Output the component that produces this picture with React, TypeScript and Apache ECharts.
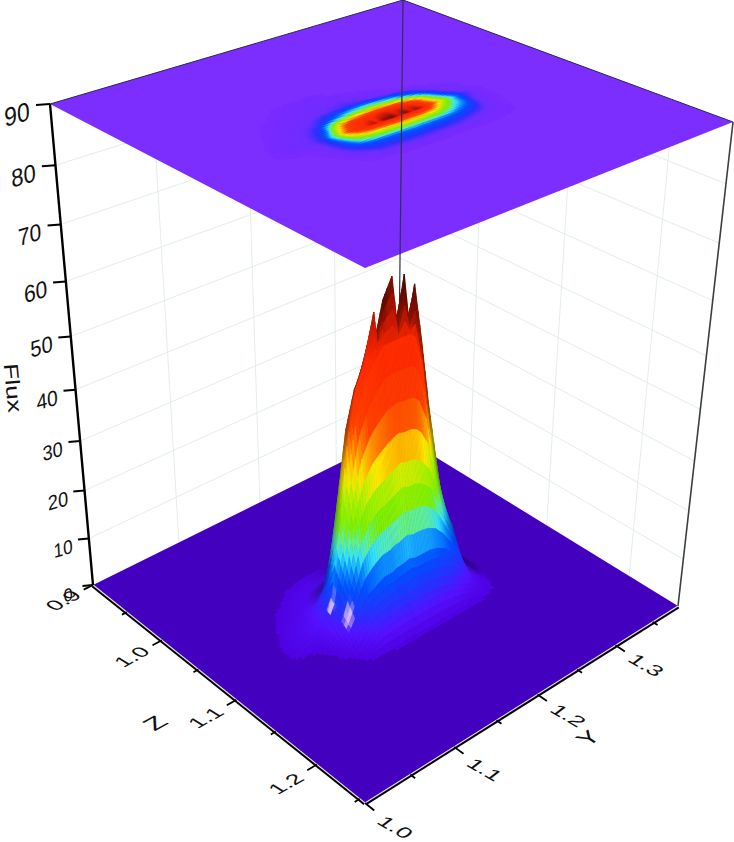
import React, { useEffect, useRef } from "react";
import * as echarts from "echarts";

// ---------- data ----------
const zValues = [1.0, 1.0125, 1.025, 1.0375, 1.05, 1.0625, 1.075, 1.0875, 1.0895, 1.1, 1.1125, 1.125, 1.1375, 1.15, 1.1625];
const yValues = [1.06, 1.07, 1.08, 1.09, 1.1, 1.11, 1.12, 1.13, 1.14, 1.15, 1.16, 1.17, 1.175, 1.18, 1.19, 1.197, 1.204, 1.21, 1.216, 1.225, 1.235, 1.245, 1.255, 1.265, 1.28, 1.295, 1.31];
const flux: number[][] = [
  [0, 0, 0, 0, 0, 0, 0, 0, 0, 0, 0, 0, 0, 0, 0, 0, 0, 0, 0, 0, 0, 0, 0, 0, 0, 0, 0],
  [0, 0, 0, 0, 0, 0, 0, 0, 0, 0.1, 0.15, 0.1, 0, 0, 0, 0, 0, 0, 0, 0, 0, 0, 0, 0, 0, 0, 0],
  [0, 0, 0, 0, 0, 0, 0.3, 0.6, 0.8, 1, 1.1, 0.9, 0.6, 0.3, 0.1, 0, 0, 0, 0, 0, 0, 0, 0, 0, 0, 0, 0],
  [0, 0, 0, 0, 0.3, 0.5, 0.8, 1.1, 1.4, 1.7, 2, 2.2, 2.3, 2.4, 1.6, 0.9, 0.6, 0.4, 0.3, 0.15, 0, 0, 0, 0, 0, 0, 0],
  [0, 0, 0, 0.3, 0.6, 0.9, 1.3, 1.8, 2.5, 3.2, 4, 4.6, 4.8, 5, 4.6, 4, 3, 2.2, 1.4, 0.6, 0.2, 0.1, 0, 0, 0, 0, 0],
  [0, 0, 0.2, 0.8, 1.2, 1.7, 2.6, 4, 7, 11, 15, 19, 20, 21, 23, 22, 21, 20, 18, 14, 9, 4, 0.8, 0.3, 0.1, 0, 0],
  [0, 0.2, 0.8, 1.3, 1.8, 2.8, 5, 10, 24, 37, 44, 47, 48, 49, 52, 50, 49, 50, 47, 41, 28, 15, 5, 1.4, 0.3, 0.1, 0],
  [0, 0.35, 1, 1.6, 2.4, 3.6, 7.5, 20, 36, 46, 50, 58.5, 51, 60, 63.5, 54, 63, 54, 60.5, 50, 37, 26, 15, 6, 0.5, 0.1, 0],
  [0, 0.3, 0.9, 1.4, 2.1, 3.2, 7, 18, 32, 42, 47, 50, 51, 52, 52, 52, 52, 52, 51, 45, 32, 23, 14, 5.5, 0.5, 0.1, 0],
  [0, 0, 0, 0.2, 0.6, 2.4, 6, 12, 21, 25, 27, 28, 28.5, 29, 30, 29.5, 29.5, 29, 28, 26, 21, 16, 12, 4, 0.6, 0.1, 0],
  [0, 0, 0, 0, 0.2, 1, 4, 7, 9, 10, 11, 11, 11.5, 11.5, 12, 11.5, 11.5, 11.5, 11.5, 11, 10, 8, 6, 2.5, 0.4, 0, 0],
  [0, 0, 0, 0, 0, 0.2, 0.6, 2.5, 4.4, 4.8, 5, 5.2, 5.2, 5.3, 5.4, 5.3, 5.3, 5.2, 5, 4.6, 3.8, 2.8, 2, 1, 0.25, 0, 0],
  [0, 0, 0, 0, 0, 0, 0.2, 0.3, 0.3, 0.35, 0.4, 0.4, 0.4, 0.4, 0.4, 0.4, 0.4, 0.4, 0.4, 0.4, 0.4, 0.4, 0.35, 0.3, 0.1, 0, 0],
  [0, 0, 0, 0, 0, 0, 0, 0, 0, 0, 0, 0, 0, 0, 0, 0, 0, 0, 0, 0, 0, 0, 0, 0, 0, 0, 0],
  [0, 0, 0, 0, 0, 0, 0, 0, 0, 0, 0, 0, 0, 0, 0, 0, 0, 0, 0, 0, 0, 0, 0, 0, 0, 0, 0],
];
const glintZ = [1.1075, 1.09];
const glintY = [1.122, 1.118];
const glintSize = [1, 0.75];
const fluxTicks = [0, 10, 20, 30, 40, 50, 60, 70, 80, 90];
const zMajor = [0.9, 1.0, 1.1, 1.2];
const zMinor = [0.95, 1.05, 1.15, 1.25];
const yMajor = [1.0, 1.1, 1.2, 1.3];
const yMinor = [1.05, 1.15, 1.25, 1.35];
const zRange = [0.9, 1.256];
const yRange = [1.0, 1.385];
const fluxMax = 90;

// flux -> colour stops
const stopValues = [0, 3, 6, 10, 13, 15.5, 18, 21, 26, 30, 34, 39, 50, 56, 61, 65];
const stopColors = ["#5000E0", "#5512FF", "#2A30FF", "#0050FF", "#0A8CFF", "#30E0FF", "#60F0A0", "#7CF000", "#B0F000", "#FFE800", "#FF9800", "#FF4000", "#FF2A00", "#C81800", "#801000", "#480C00"];
const topStopColors = ["#7A2AFF", "#6E2EFF", "#2A30FF", "#0050FF", "#0A8CFF", "#30E0FF", "#60F0A0", "#7CF000", "#B0F000", "#FFE800", "#FF9800", "#FF4000", "#FF2A00", "#C81800", "#801000", "#480C00"];

// ---------- projection ----------
type P = [number, number];
const quadBottom: P[] = [[93, 585], [365, 803], [678, 606], [398, 434]];
const quadTop: P[] = [[50, 104], [365, 268], [733, 122], [403, 0]];
const depthK = 1.17;

function homography(q: P[]) {
  const [[x0, y0], [x1, y1], [x2, y2], [x3, y3]] = q;
  const dx1 = x1 - x2, dx2 = x3 - x2, sx = x0 - x1 + x2 - x3;
  const dy1 = y1 - y2, dy2 = y3 - y2, sy = y0 - y1 + y2 - y3;
  const den = dx1 * dy2 - dx2 * dy1;
  const g = (sx * dy2 - dx2 * sy) / den;
  const h = (dx1 * sy - sx * dy1) / den;
  const a = x1 - x0 + g * x1, b = x3 - x0 + h * x3, c = x0;
  const d = y1 - y0 + g * y1, e = y3 - y0 + h * y3, f = y0;
  return (u: number, v: number): P => {
    const w = g * u + h * v + 1;
    return [(a * u + b * v + c) / w, (d * u + e * v + f) / w];
  };
}
const H0 = homography(quadBottom);
const H1 = homography(quadTop);

function project(z: number, y: number, f: number): P {
  const u = (z - zRange[0]) / (zRange[1] - zRange[0]);
  const v = (y - yRange[0]) / (yRange[1] - yRange[0]);
  const b = H0(u, v), t = H1(u, v);
  const r = f / fluxMax;
  const s = r / (r + (1 - r) * depthK);
  return [b[0] + (t[0] - b[0]) * s, b[1] + (t[1] - b[1]) * s];
}

// ---------- colour ----------
function hex(c: string) {
  return [parseInt(c.slice(1, 3), 16), parseInt(c.slice(3, 5), 16), parseInt(c.slice(5, 7), 16)];
}
function ramp(f: number, colors: string[]) {
  let i = 0;
  while (i < stopValues.length - 2 && f > stopValues[i + 1]) i++;
  const t = Math.min(1, Math.max(0, (f - stopValues[i]) / (stopValues[i + 1] - stopValues[i])));
  const a = hex(colors[i]), b = hex(colors[i + 1]);
  return [0, 1, 2].map((k) => a[k] + (b[k] - a[k]) * t);
}
function css(c: number[]) {
  return `rgb(${c.map((v) => Math.round(Math.max(0, Math.min(255, v)))).join(",")})`;
}
const light = [0.6, -0.55, 0.58];
const nodeLight: number[][] = flux.map((row, r) =>
  row.map((_, c) => {
    const r0 = Math.max(0, r - 1), r1 = Math.min(flux.length - 1, r + 1);
    const c0 = Math.max(0, c - 2), c1 = Math.min(row.length - 1, c + 2);
    const du = (flux[r1][c] - flux[r0][c]) / fluxMax * 1.3 / ((zValues[r1] - zValues[r0]) / (zRange[1] - zRange[0]));
    const dv = (flux[r][c1] - flux[r][c0]) / fluxMax * 1.3 / ((yValues[c1] - yValues[c0]) / (yRange[1] - yRange[0]));
    const len = Math.hypot(du, dv, 1);
    return (-du * light[0] - dv * light[1] + light[2]) / len;
  })
);
function bilinear(m: number[][], r: number, c: number, a: number, b: number) {
  return (m[r][c] * (1 - a) + m[r + 1][c] * a) * (1 - b) + (m[r][c + 1] * (1 - a) + m[r + 1][c + 1] * a) * b;
}

const SUB = 4;
const cells: number[][] = [];
for (let r = 0; r < zValues.length - 1; r++) {
  for (let c = yValues.length - 2; c >= 0; c--) cells.push([r, c]);
}

function cellRender(mode: "surface" | "top") {
  return (_: any, api: any) => {
    const r = api.value(0), c = api.value(1);
    const children: any[] = [];
    const zAt = (a: number) => zValues[r] + (zValues[r + 1] - zValues[r]) * a;
    const yAt = (b: number) => yValues[c] + (yValues[c + 1] - yValues[c]) * b;
    for (let i = 0; i < SUB; i++) {
      for (let j = SUB - 1; j >= 0; j--) {
        const a0 = i / SUB, a1 = (i + 1) / SUB, b0 = j / SUB, b1 = (j + 1) / SUB;
        const fc = bilinear(flux, r, c, (a0 + a1) / 2, (b0 + b1) / 2);
        if (fc < 0.3) continue;
        let fill: string;
        let pts: P[];
        if (mode === "top") {
          fill = css(ramp(fc, topStopColors));
          pts = [[a0, b0], [a1, b0], [a1, b1], [a0, b1]].map(([a, b]) => project(zAt(a), yAt(b), fluxMax));
        } else {
          const d = bilinear(nodeLight, r, c, (a0 + a1) / 2, (b0 + b1) / 2);
          const col = ramp(fc, stopColors);
          const sh = 0.62 + 0.9 * Math.max(d, 0);
          let out = col.map((v) => v * Math.min(sh, 1));
          let glint = 0;
          glintZ.forEach((gz, k) => {
            const q = Math.hypot((zAt((a0 + a1) / 2) - gz) / (0.005 * glintSize[k]), (yAt((b0 + b1) / 2) - glintY[k]) / (0.0055 * glintSize[k]));
            glint = Math.max(glint, 1 - q);
          });
          if (glint > 0) {
            const tint = [238, 205, 255];
            const m = Math.min(0.85, glint * 1.6);
            out = out.map((v, k) => v + (tint[k] - v) * m);
          }
          fill = css(out);
          pts = [[a0, b0], [a1, b0], [a1, b1], [a0, b1]].map(([a, b]) =>
            project(zAt(a), yAt(b), bilinear(flux, r, c, a, b))
          );
        }
        children.push({ type: "polygon", silent: true, shape: { points: pts }, style: { fill, stroke: fill, lineWidth: 0.6 } });
      }
    }
    return { type: "group", children };
  };
}

// ---------- skewed text ----------
function skewText(text: string, p: P, b: P, d: P, size: number, fill = "#111") {
  const A = b[0], B = d[0], C = b[1], D = d[1];
  const E = (A + D) / 2, F = (A - D) / 2, G = (C + B) / 2, H = (C - B) / 2;
  const Q = Math.hypot(E, H), R = Math.hypot(F, G);
  const a1 = Math.atan2(G, F), a2 = Math.atan2(H, E);
  const theta = (a2 - a1) / 2, phi = (a2 + a1) / 2;
  return {
    type: "group",
    x: p[0],
    y: p[1],
    rotation: -phi,
    scaleX: Q + R,
    scaleY: Q - R,
    children: [
      {
        type: "text",
        rotation: -theta,
        silent: true,
        style: { text, x: 0, y: 0, fill, align: "center", verticalAlign: "middle", font: `${size}px "Liberation Sans", Arial, sans-serif` },
      },
    ],
  };
}

function seg(a: P, b: P, stroke: string, lineWidth: number, opacity = 1) {
  return { type: "line", silent: true, shape: { x1: a[0], y1: a[1], x2: b[0], y2: b[1] }, style: { stroke, lineWidth, opacity, lineCap: "butt" } };
}

function layer(children: () => any[]) {
  return {
    type: "custom",
    coordinateSystem: "none",
    silent: true,
    clip: false,
    data: [0],
    renderItem: () => ({ type: "group", children: children() }),
  };
}

const GRID = "#E4ECEC";
const [zA, zB] = zRange;
const [yA, yB] = yRange;

function wallLines() {
  const out: any[] = [];
  fluxTicks.slice(1, -1).forEach((f) => {
    out.push(seg(project(zA, yA, f), project(zA, yB, f), GRID, 1));
    out.push(seg(project(zA, yB, f), project(zB, yB, f), GRID, 1));
  });
  yMajor.slice(1).forEach((y) => out.push(seg(project(zA, y, 0), project(zA, y, fluxMax), GRID, 1)));
  zMajor.slice(1).forEach((z) => out.push(seg(project(z, yB, 0), project(z, yB, fluxMax), GRID, 1)));
  return out;
}

function topPlane() {
  return [{ type: "polygon", silent: true, shape: { points: quadTop }, style: { fill: "#7A2AFF", opacity: 0.985 } }];
}
function backLines() {
  const tl = project(zA, yA, fluxMax), tb = project(zA, yB, fluxMax), tr = project(zB, yB, fluxMax);
  return [
    seg(tl, tb, "#2A2A4A", 1),
    seg(tb, tr, "#2A2A4A", 1),
    seg(tb, project(zA, yB, 0), "#30304A", 1.2),
    seg(tr, project(zB, yB, 0), "#3A3F40", 1.6),
  ];
}
function bottomPlane() {
  return [{ type: "polygon", silent: true, shape: { points: quadBottom }, style: { fill: "#4400BF" } }];
}

function axes() {
  const out: any[] = [];
  const L = project(zA, yA, 0), F = project(zB, yA, 0), R = project(zB, yB, 0), T = project(zA, yA, fluxMax);
  // white highlight + black axis lines
  out.push(seg(L, F, "#E8E0F0", 1.2));
  out.push(seg(F, R, "#E8E0F0", 1.2));
  out.push(seg([L[0] - 0.9, L[1] + 1.2], [F[0] - 0.9, F[1] + 1.2], "#000", 2));
  out.push(seg([F[0] + 0.8, F[1] + 1.3], [R[0] + 0.8, R[1] + 1.3], "#000", 2));
  out.push(seg(T, L, "#000", 2.4));
  // flux ticks & labels
  fluxTicks.forEach((f) => {
    const p = project(zA, yA, f);
    const scale = 0.75 + 0.25 * (f / fluxMax);
    const tick: P = [p[0] - 14 * scale, p[1] + 1];
    out.push(seg(p, tick, "#000", 2));
    out.push(skewText(String(f), [p[0] - 33 * scale, p[1] + 10], [0.95, -0.28], [0.06, 1.08], Math.round(17 + 7 * (f / fluxMax))));
  });
  out.push(skewText("Flux", [13, 388], [0.12, 1.3], [-1, 0.08], 20));
  // Z axis
  const zb: P = [1.12, -0.62];
  const zd: P = [0.92, 0.56];
  zMajor.forEach((z) => {
    out.push(seg(project(z, yA, 0), project(z, yA - 0.0105, 0), "#000", 1.8));
    const p = project(z, yA - 0.033, 0);
    out.push(skewText(z.toFixed(1), [p[0], p[1] + 1], zb, zd, 18));
  });
  zMinor.forEach((z) => out.push(seg(project(z, yA, 0), project(z, yA - 0.0055, 0), "#000", 1.8)));
  out.push(skewText("Z", [155, 723], zb, zd, 22));
  // Y axis
  const yb: P = [1.18, 0.68];
  const yd: P = [-0.8, 0.62];
  yMajor.forEach((y) => {
    out.push(seg(project(zB, y, 0), project(zB + 0.0105, y, 0), "#000", 1.8));
    const p = project(zB + 0.034, y, 0);
    out.push(skewText(y.toFixed(1), p, yb, yd, 18));
  });
  yMinor.forEach((y) => out.push(seg(project(zB, y, 0), project(zB + 0.0055, y, 0), "#000", 1.8)));
  out.push(skewText("Y", [588, 738], [1.0, -0.6], [0.88, 0.58], 22));
  return out;
}

export default function App() {
  const ref = useRef<HTMLDivElement>(null);
  useEffect(() => {
    const chart = echarts.init(ref.current!, undefined, { renderer: "svg" });
    chart.setOption({
      animation: false,
      backgroundColor: "#fff",
      series: [
        layer(wallLines),
        layer(topPlane),
        { type: "custom", coordinateSystem: "none", silent: true, clip: false, data: cells, renderItem: cellRender("top") },
        layer(backLines),
        layer(bottomPlane),
        { type: "custom", coordinateSystem: "none", silent: true, clip: false, data: cells, renderItem: cellRender("surface") },
        layer(axes),
      ],
    });
    return () => chart.dispose();
  }, []);
  return <div ref={ref} style={{ position: "absolute", left: 0, top: 0, width: 734, height: 842 }} />;
}
